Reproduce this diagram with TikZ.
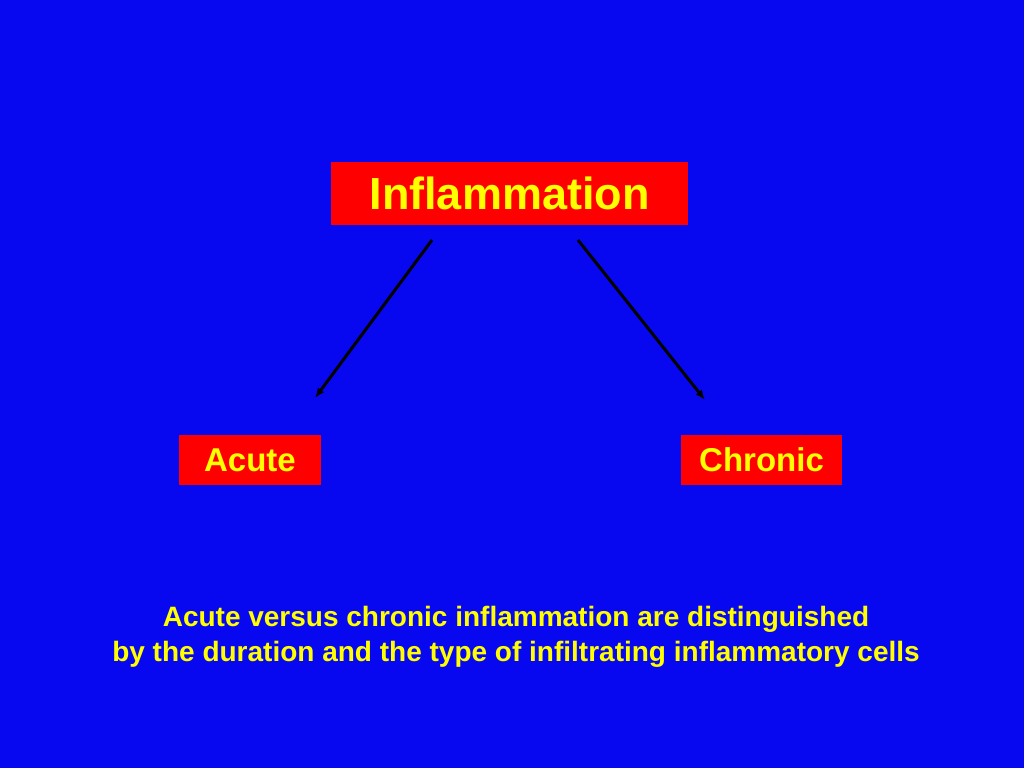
\documentclass[tikz,border=0pt]{standalone}
\usepackage{fontspec}
\usetikzlibrary{arrows.meta}
\setmainfont{Liberation Sans}
\definecolor{bg}{RGB}{8,8,240}
\definecolor{ylw}{RGB}{255,255,0}
\definecolor{rd}{RGB}{255,0,0}
\begin{document}
\begin{tikzpicture}[x=1pt,y=-1pt,
  box/.style={fill=rd,text=ylw,font=\bfseries,inner sep=0pt},
  arr/.style={-{Latex[length=10pt,width=8pt]},line width=3pt,black}]
\fill[bg] (0,0) rectangle (1024,768);
\useasboundingbox (0,0) rectangle (1024,768);
\node[box,minimum width=357pt,minimum height=63pt,font=\bfseries\fontsize{45}{50}\selectfont] (inf) at (509.5,193.5) {Inflammation};
\node[box,minimum width=142pt,minimum height=50pt,font=\bfseries\fontsize{33}{36}\selectfont] (ac) at (250,460) {Acute};
\node[box,minimum width=161pt,minimum height=50pt,font=\bfseries\fontsize{33}{36}\selectfont] (ch) at (761.5,460) {Chronic};
\coordinate (a1) at (432,240); \coordinate (a2) at (315,398);
\coordinate (b1) at (578,240); \coordinate (b2) at (705,400);
\draw[arr] (a1) -- (a2);
\draw[arr] (b1) -- (b2);
\node[text=ylw,font=\bfseries\fontsize{28}{35}\selectfont,align=center] (cap) at (516,637)
 {Acute versus chronic inflammation are distinguished\\by the duration and the type of infiltrating inflammatory cells};
\end{tikzpicture}
\end{document}
